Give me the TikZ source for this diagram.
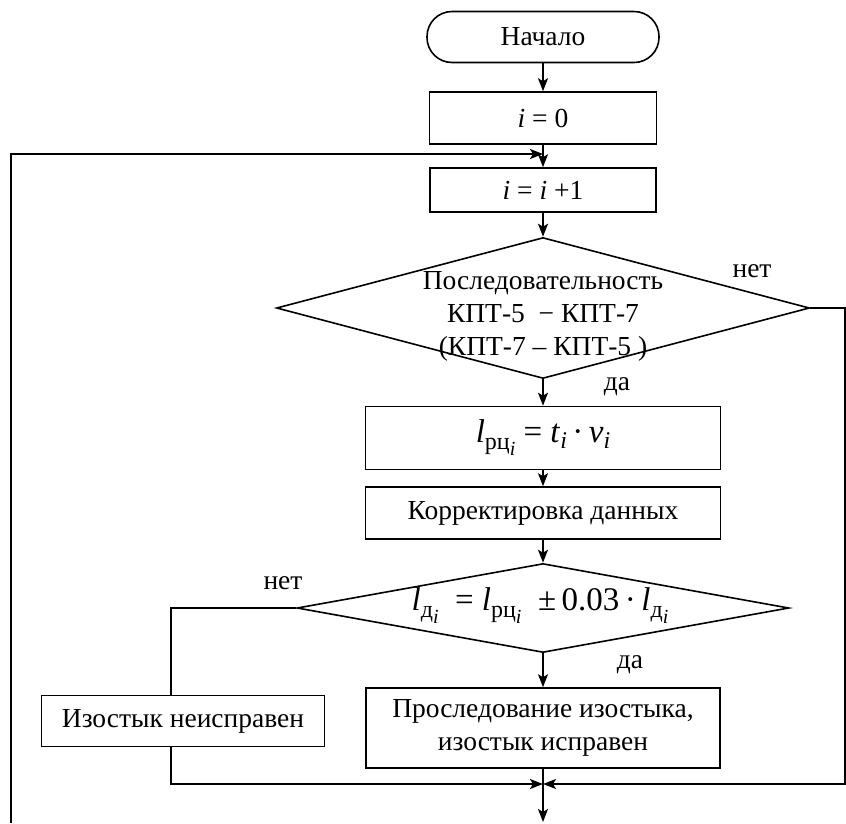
\documentclass[tikz,border=0pt]{standalone}
\usepackage{fontspec}
\setmainfont{Liberation Serif}
\usetikzlibrary{shapes.geometric,arrows.meta,positioning}

% variable with a two-level index: #1 letter, #2 upright index
\newcommand{\ivar}[2]{\textit{#1}\raisebox{-7pt}{\fontsize{24}{24}\selectfont #2\raisebox{-6pt}{\fontsize{20}{20}\selectfont\textit{i}}}}
% variable with index i
\newcommand{\ivari}[1]{\textit{#1}\raisebox{-6pt}{\fontsize{24}{24}\selectfont\textit{i}}}

\tikzset{
	box/.style={draw,rectangle,minimum width=355pt,minimum height=52pt,inner sep=0pt,align=center},
	term/.style={draw,rectangle,rounded corners=25pt,minimum width=232pt,minimum height=51pt},
	decision/.style={draw,diamond,inner sep=0pt},
	lbl/.style={inner sep=0pt,align=center},
	flow/.style={-{Stealth[length=13pt,width=10pt,inset=3pt]}},
	bigtext/.style={font=\fontsize{33}{36}\selectfont}
}

\begin{document}
\begin{tikzpicture}[x=1pt,y=-1pt,line width=1.6pt,font=\fontsize{27.5}{33}\selectfont]

	\pgfmathsetmacro{\midx}{543}
	\pgfmathsetmacro{\leftx}{11}
	\pgfmathsetmacro{\rightx}{845}

	\useasboundingbox (0,0) rectangle (846,823);

	% blocks
	\node[term] (start) at (\midx,37) {Начало};
	\node[box,minimum width=227pt] (init) at (\midx,118) {\textit{i} = 0};
	\node[box,minimum width=226pt,minimum height=44pt] (inc) at (\midx,190) {\textit{i} = \textit{i} +1};
	\node[decision,minimum width=533pt,minimum height=141pt] (seq) at (\midx,308) {};
	\node[lbl] (seqtext) at (\midx,316) {Последовательность\\КПТ-5 \ − КПТ-7\\(КПТ-7 – КПТ-5 )};
	\node[box,minimum height=63pt,bigtext] (calc) at (\midx,438)
		{\ivar{l}{рц} = \ivari{t}\,·\,\ivari{v}};
	\node[box] (corr) at (\midx,513) {Корректировка данных};
	\node[decision,minimum width=492pt,minimum height=89pt] (check) at (\midx,608) {};
	\node[lbl,bigtext] (checktext) at (540,606)
		{\ivar{l}{д} \ = \ivar{l}{рц} \ ±\,0.03\,·\,\ivar{l}{д}};
	\node[box,minimum width=283pt,minimum height=51pt] (fault) at (183,721) {Изостык неисправен};
	\node[box,minimum width=354pt,minimum height=80pt] (ok) at (\midx,728) {Проследование изостыка,\\изостык исправен};

	% labels
	\node[lbl] (seqno) at (752,271) {нет};
	\node[lbl] (seqyes) at (617,387) {да};
	\node[lbl] (checkno) at (283,583) {нет};
	\node[lbl] (checkyes) at (630,665) {да};

	% points
	\coordinate (loopin) at (\midx,154);
	\coordinate (loopbot) at (\leftx,823);
	\coordinate (seqout) at (\rightx,308);
	\coordinate (checkout) at (171,608);
	\coordinate (merge) at (\midx,784);
	\coordinate (exit) at (\midx,822);

	% main line
	\draw[flow] (start) -- (init);
	\draw[flow] (init) -- (inc);
	\draw[flow] (inc) -- (seq);
	\draw[flow] (seq) -- (calc);
	\draw[flow] (calc) -- (corr);
	\draw[flow] (corr) -- (check);
	\draw[flow] (check) -- (ok);
	\draw[flow] (ok) -- (exit);

	% branches
	\draw[flow] (loopbot) |- (loopin);
	\draw (check.west) -- (checkout) -- (fault.north -| checkout);
	\draw[flow] (fault.south -| checkout) |- (merge);
	\draw[flow] (seq.east) -- (seqout) |- (merge);

\end{tikzpicture}
\end{document}
